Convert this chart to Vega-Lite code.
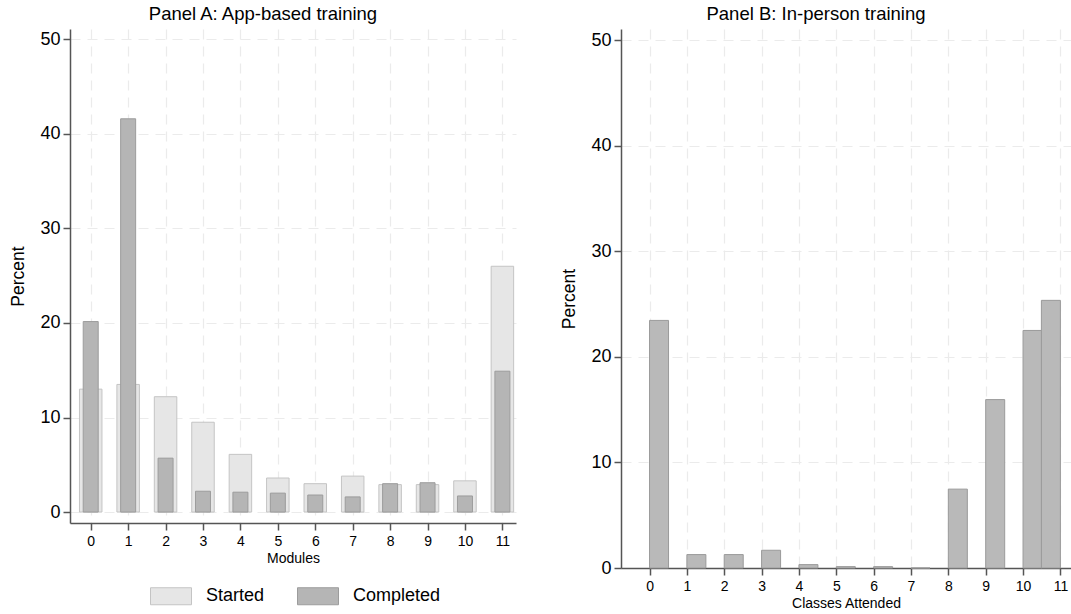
{
  "$schema": "https://vega.github.io/schema/vega-lite/v6.json",
  "background": "white",
  "padding": {"left": 9, "top": 4, "right": 0, "bottom": 0},
  "spacing": 44,
  "datasets": {
    "app": [
      {"modules": 0, "status": "Started", "pct": 13.0},
      {"modules": 1, "status": "Started", "pct": 13.5},
      {"modules": 2, "status": "Started", "pct": 12.2},
      {"modules": 3, "status": "Started", "pct": 9.5},
      {"modules": 4, "status": "Started", "pct": 6.1},
      {"modules": 5, "status": "Started", "pct": 3.6},
      {"modules": 6, "status": "Started", "pct": 3.0},
      {"modules": 7, "status": "Started", "pct": 3.8},
      {"modules": 8, "status": "Started", "pct": 2.9},
      {"modules": 9, "status": "Started", "pct": 2.9},
      {"modules": 10, "status": "Started", "pct": 3.3},
      {"modules": 11, "status": "Started", "pct": 26.0},
      {"modules": 0, "status": "Completed", "pct": 20.15},
      {"modules": 1, "status": "Completed", "pct": 41.6},
      {"modules": 2, "status": "Completed", "pct": 5.7},
      {"modules": 3, "status": "Completed", "pct": 2.2},
      {"modules": 4, "status": "Completed", "pct": 2.1},
      {"modules": 5, "status": "Completed", "pct": 2.0},
      {"modules": 6, "status": "Completed", "pct": 1.8},
      {"modules": 7, "status": "Completed", "pct": 1.6},
      {"modules": 8, "status": "Completed", "pct": 3.0},
      {"modules": 9, "status": "Completed", "pct": 3.1},
      {"modules": 10, "status": "Completed", "pct": 1.7},
      {"modules": 11, "status": "Completed", "pct": 14.9}
    ],
    "inperson": [
      {"classes": 0, "pct": 23.45},
      {"classes": 1, "pct": 1.27},
      {"classes": 2, "pct": 1.27},
      {"classes": 3, "pct": 1.68},
      {"classes": 4, "pct": 0.32},
      {"classes": 5, "pct": 0.13},
      {"classes": 6, "pct": 0.13},
      {"classes": 7, "pct": 0},
      {"classes": 8, "pct": 7.47},
      {"classes": 9, "pct": 15.95},
      {"classes": 10, "pct": 22.5},
      {"classes": 11, "pct": 25.35}
    ]
  },
  "config": {
    "view": {"stroke": null},
    "font": "Liberation Sans",
    "title": {"font": "Liberation Sans", "fontSize": 18.5, "fontWeight": "normal", "color": "#000000", "anchor": "middle", "frame": "bounds", "offset": 6},
    "axis": {
      "domainColor": "#555555", "domainWidth": 1.5,
      "tickColor": "#555555", "tickWidth": 1.5, "tickSize": 7,
      "labelColor": "#000000", "titleColor": "#000000",
      "labelFont": "Liberation Sans", "titleFont": "Liberation Sans",
      "titleFontWeight": "normal",
      "grid": true, "gridColor": "#ebebeb", "gridDash": [10, 7], "gridWidth": 1.2
    },
    "axisX": {"labelFontSize": 14, "titleFontSize": 14, "labelPadding": 4, "titlePadding": 3, "labelAngle": 0},
    "axisY": {"labelFontSize": 18, "titleFontSize": 17.5, "labelPadding": 3, "titlePadding": 12},
    "legend": {"labelFont": "Liberation Sans", "labelColor": "#000000"}
  },
  "resolve": {"legend": {"color": "independent", "stroke": "independent"}},
  "hconcat": [
    {
      "width": 446,
      "height": 494,
      "title": {"text": "Panel A: App-based training"},
      "data": {"name": "app"},
      "encoding": {
        "x": {
          "field": "modules", "type": "quantitative",
          "scale": {"domain": [-0.42, 11.23], "nice": false, "zero": false},
          "axis": {"values": [0, 1, 2, 3, 4, 5, 6, 7, 8, 9, 10, 11], "format": "d", "title": "Modules"}
        },
        "y": {
          "field": "pct", "type": "quantitative",
          "scale": {"domain": [-1.16, 51.1], "nice": false, "zero": false},
          "axis": {"values": [0, 10, 20, 30, 40, 50], "title": "Percent"}
        },
        "y2": {"datum": 0},
        "color": {
          "field": "status", "type": "nominal",
          "scale": {"domain": ["Started", "Completed"], "range": ["#e6e6e6", "#b5b5b5"]},
          "legend": {
            "title": null, "orient": "none", "legendX": 80, "legendY": 546, "direction": "horizontal",
            "symbolType": "M-1,-0.415H1V0.415H-1Z", "symbolSize": 1681, "symbolStrokeWidth": 1,
            "labelFontSize": 18, "labelOffset": 14, "columnPadding": 30
          }
        },
        "stroke": {
          "field": "status", "type": "nominal",
          "scale": {"domain": ["Started", "Completed"], "range": ["#c4c4c4", "#9c9c9c"]},
          "legend": {
            "title": null, "orient": "none", "legendX": 80, "legendY": 546, "direction": "horizontal",
            "symbolType": "M-1,-0.415H1V0.415H-1Z", "symbolSize": 1681, "symbolStrokeWidth": 1,
            "labelFontSize": 18, "labelOffset": 14, "columnPadding": 30
          }
        }
      },
      "layer": [
        {
          "transform": [{"filter": "datum.status === 'Started'"}],
          "mark": {"type": "bar", "width": 22.5, "strokeWidth": 1, "fillOpacity": 1}
        },
        {
          "transform": [{"filter": "datum.status === 'Completed'"}],
          "mark": {"type": "bar", "width": 15, "strokeWidth": 1, "fillOpacity": 1}
        }
      ]
    },
    {
      "width": 450,
      "height": 539,
      "title": {"text": "Panel B: In-person training"},
      "data": {"name": "inperson"},
      "encoding": {
        "x": {
          "field": "classes", "type": "quantitative",
          "scale": {"domain": [-0.63, 11.15], "nice": false, "zero": false},
          "axis": {"values": [0, 1, 2, 3, 4, 5, 6, 7, 8, 9, 10, 11], "format": "d", "title": "Classes Attended"}
        },
        "y": {
          "field": "pct", "type": "quantitative",
          "scale": {"domain": [0, 51.05], "nice": false, "zero": false},
          "axis": {"values": [0, 10, 20, 30, 40, 50], "title": "Percent"}
        },
        "y2": {"datum": 0}
      },
      "layer": [
        {
          "transform": [{"filter": "datum.classes < 11"}],
          "mark": {"type": "bar", "width": 19, "xOffset": 9.5, "fill": "#b9b9b9", "stroke": "#9a9a9a", "strokeWidth": 1}
        },
        {
          "transform": [{"filter": "datum.classes >= 11"}],
          "mark": {"type": "bar", "width": 19, "xOffset": -9.5, "fill": "#b9b9b9", "stroke": "#9a9a9a", "strokeWidth": 1}
        }
      ]
    }
  ]
}
